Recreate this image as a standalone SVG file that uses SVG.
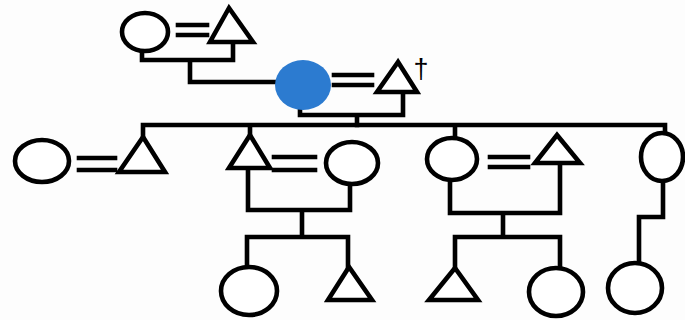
<svg xmlns="http://www.w3.org/2000/svg" width="685" height="320" viewBox="0 0 685 320">
<style>
.s{fill:#fff;stroke:#000;stroke-width:4.6;stroke-linejoin:miter}
.c{fill:none;stroke:#000;stroke-width:4.6;stroke-linecap:square;stroke-linejoin:miter}
.aff{fill:#2c7bd0;stroke:none}
.t{font-family:"Liberation Sans","DejaVu Sans",sans-serif;font-size:27px;fill:#000;text-anchor:middle}
</style>
<rect width="685" height="320" fill="#fdfdfd"/>
<g id="connectors">
<path class="c" d="M178,25 H207 M178,35 H207"/>
<path class="c" d="M142,52 V60 H233 V42 M190,60 V82 H277"/>
<path class="c" d="M334,75 H372 M334,85 H372"/>
<path class="c" d="M300,110 V115 H403 V92 M357,115 V125"/>
<path class="c" d="M143,125 H665 V134 M143,125 V137 M250,125 V135 M455,125 V138"/>
<path class="c" d="M79,158 H115 M79,170 H115"/>
<path class="c" d="M274,157 H315 M274,170 H315"/>
<path class="c" d="M248,168 V210 H350 V185 M302,210 V237 M247,237 H348 M247,237 V267 M348,237 V267"/>
<path class="c" d="M490,157 H528 M490,167 H528"/>
<path class="c" d="M450,180 V213 H560 V163 M503,213 V237 M455,237 H560 M455,237 V268 M560,237 V268"/>
<path class="c" d="M663,181 V217 H639 V263"/>
</g>
<g id="n_gm"><ellipse class="s" cx="145" cy="32" rx="23" ry="19"/></g>
<g id="n_gf"><polygon class="s" points="229,8 210,42 253,42"/></g>
<g id="n_proband"><ellipse class="aff" cx="303" cy="85" rx="28" ry="25"/></g>
<g id="n_husband"><polygon class="s" points="398,62 377,92 417,92"/><text class="t" x="421" y="78">†</text></g>
<g id="n_w1"><ellipse class="s" cx="42" cy="161" rx="27" ry="21"/></g>
<g id="n_s1"><polygon class="s" points="143,137 119,172 165,172"/></g>
<g id="n_s2"><polygon class="s" points="250,135 229,168 270,168"/></g>
<g id="n_w2"><ellipse class="s" cx="352" cy="163" rx="26" ry="21"/></g>
<g id="n_d1"><ellipse class="s" cx="452" cy="159" rx="25" ry="21"/></g>
<g id="n_h1"><polygon class="s" points="557,135 535,163 580,163"/></g>
<g id="n_d2"><ellipse class="s" cx="662" cy="157" rx="21" ry="24"/></g>
<g id="n_g1"><ellipse class="s" cx="249" cy="291" rx="28" ry="24"/></g>
<g id="n_g2"><polygon class="s" points="349,267 328,300 372,300"/></g>
<g id="n_g3"><polygon class="s" points="455,268 429,300 478,300"/></g>
<g id="n_g4"><ellipse class="s" cx="556" cy="292" rx="27" ry="24"/></g>
<g id="n_g5"><ellipse class="s" cx="635" cy="288" rx="27" ry="25"/></g>
</svg>
